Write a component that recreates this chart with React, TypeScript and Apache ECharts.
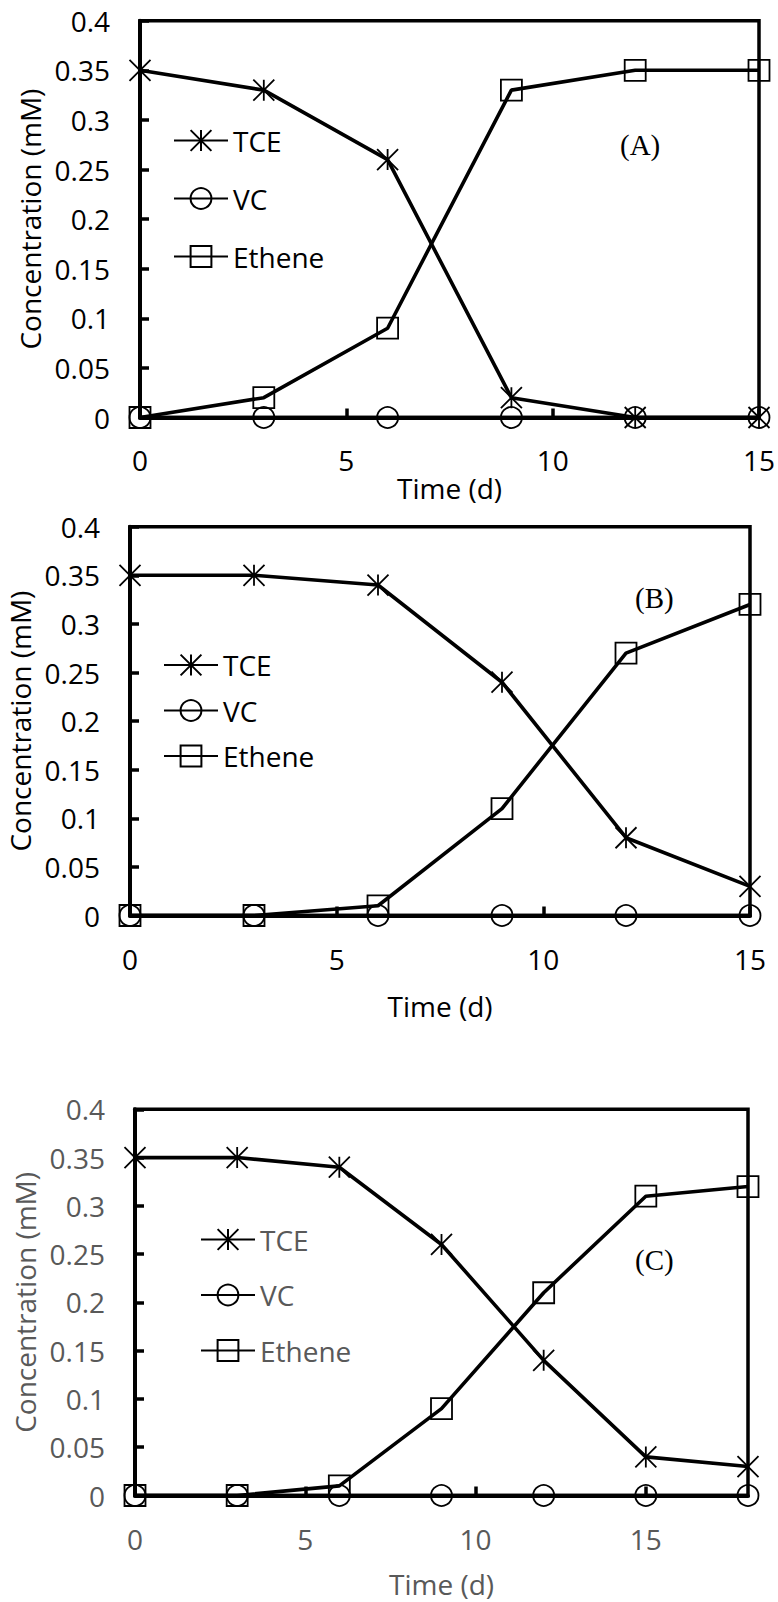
import React, { useEffect, useRef } from "react";
import * as echarts from "echarts";

// ---- Data ----
const timeAB = [0, 3, 6, 9, 12, 15];
const timeC = [0, 3, 6, 9, 12, 15, 18];

const tceA = [0.35, 0.33, 0.26, 0.02, 0, 0];
const vcA = [0, 0, 0, 0, 0, 0];
const etheneA = [0, 0.02, 0.09, 0.33, 0.35, 0.35];

const tceB = [0.35, 0.35, 0.34, 0.24, 0.08, 0.03];
const vcB = [0, 0, 0, 0, 0, 0];
const etheneB = [0, 0, 0.01, 0.11, 0.27, 0.32];

const tceC = [0.35, 0.35, 0.34, 0.26, 0.14, 0.04, 0.03];
const vcC = [0, 0, 0, 0, 0, 0, 0];
const etheneC = [0, 0, 0.01, 0.09, 0.21, 0.31, 0.32];

const seriesNames = ["TCE", "VC", "Ethene"];
const panelLabels = ["(A)", "(B)", "(C)"];
const xAxisTitle = "Time (d)";
const yAxisTitle = "Concentration (mM)";

const ASTERISK = "path://M0,0L20,20M20,0L0,20M10,0L10,20";
const symbols = [ASTERISK, "circle", "rect"];

const FONT = "Open Sans";
const GRAY = "#595959";

const panels = [
  {
    x: timeAB, data: [tceA, vcA, etheneA], xMax: 15,
    grid: { left: 140, top: 20.7, width: 619, height: 396.8 },
    textColor: "#000", labelMargin: 28, xNameGap: 38,
    legend: { left: 173, top: 126.5, gap: 30 },
    tag: { x: 620, y: 145 },
  },
  {
    x: timeAB, data: [tceB, vcB, etheneB], xMax: 15,
    grid: { left: 130, top: 526.7, width: 620, height: 388.8 },
    textColor: "#000", labelMargin: 29, xNameGap: 76,
    legend: { left: 163, top: 651, gap: 17.5 },
    tag: { x: 635, y: 598 },
  },
  {
    x: timeC, data: [tceC, vcC, etheneC], xMax: 18,
    grid: { left: 135, top: 1109.3, width: 613, height: 386.2 },
    textColor: GRAY, labelMargin: 29, xNameGap: 74,
    legend: { left: 200, top: 1225.5, gap: 27.5 },
    tag: { x: 635, y: 1260 },
  },
];

export default function App() {
  const ref = useRef<HTMLDivElement>(null);
  useEffect(() => {
    if (!ref.current) return;
    const chart = echarts.init(ref.current, null, { renderer: "svg" });

    const grids: any[] = [];
    const xAxes: any[] = [];
    const yAxes: any[] = [];
    const series: any[] = [];
    const legends: any[] = [];
    const graphics: any[] = [];

    panels.forEach((p, i) => {
      grids.push({
        ...p.grid,
        show: true,
        borderColor: "#000",
        borderWidth: 3.5,
        backgroundColor: "transparent",
        outerBoundsMode: "none",
        containLabel: false,
      });
      xAxes.push({
        type: "value",
        gridIndex: i,
        min: 0,
        max: p.xMax,
        interval: 5,
        splitLine: { show: false },
        axisLine: { show: true, onZero: false, lineStyle: { color: "#000", width: 4 } },
        axisTick: { show: true, inside: true, length: 9, lineStyle: { color: "#000", width: 3.5 } },
        axisLabel: {
          color: p.textColor, fontFamily: FONT, fontSize: 28, margin: p.labelMargin,
          showMaxLabel: p.xMax === 15,
        },
        name: xAxisTitle,
        nameLocation: "middle",
        nameGap: p.xNameGap,
        nameTextStyle: { color: p.textColor, fontFamily: FONT, fontSize: 28 },
      });
      yAxes.push({
        type: "value",
        gridIndex: i,
        min: 0,
        max: 0.4,
        interval: 0.05,
        splitLine: { show: false },
        axisLine: { show: true, onZero: false, lineStyle: { color: "#000", width: 4 } },
        axisTick: { show: true, inside: true, length: 9, lineStyle: { color: "#000", width: 3.5 } },
        axisLabel: { color: p.textColor, fontFamily: FONT, fontSize: 28, margin: 30 },
        name: yAxisTitle,
        nameLocation: "middle",
        nameGap: 96,
        nameRotate: 90,
        nameTextStyle: { color: p.textColor, fontFamily: FONT, fontSize: 28 },
      });
      p.data.forEach((vals, k) => {
        series.push({
          type: "line",
          name: seriesNames[k],
          xAxisIndex: i,
          yAxisIndex: i,
          data: p.x.map((t, j) => [t, vals[j]]),
          symbol: symbols[k],
          symbolSize: 21,
          showAllSymbol: true,
          lineStyle: { color: "#000", width: 3.6 },
          itemStyle: { color: "rgba(0,0,0,0)", borderColor: "#000", borderWidth: 1.8 },
          emphasis: { disabled: true },
          clip: false,
          z: 3,
        });
      });
      legends.push({
        orient: "vertical",
        left: p.legend.left,
        top: p.legend.top,
        padding: 0,
        itemWidth: 54,
        itemHeight: 26,
        itemGap: p.legend.gap,
        data: seriesNames,
        selectedMode: false,
        textStyle: { color: p.textColor, fontFamily: FONT, fontSize: 28, lineHeight: 26, padding: 0 },
      });
      graphics.push({
        type: "text",
        x: p.tag.x,
        y: p.tag.y,
        style: {
          text: panelLabels[i],
          font: '29px "Liberation Serif", "Times New Roman", serif',
          fill: "#000",
          verticalAlign: "middle",
          align: "left",
        },
      });
    });

    chart.setOption({
      animation: false,
      backgroundColor: "#fff",
      grid: grids,
      xAxis: xAxes,
      yAxis: yAxes,
      series,
      legend: legends,
      graphic: graphics,
    });
    return () => chart.dispose();
  }, []);

  return (
    <div
      ref={ref}
      style={{ position: "absolute", left: 0, top: 0, width: 778, height: 1602 }}
    />
  );
}
